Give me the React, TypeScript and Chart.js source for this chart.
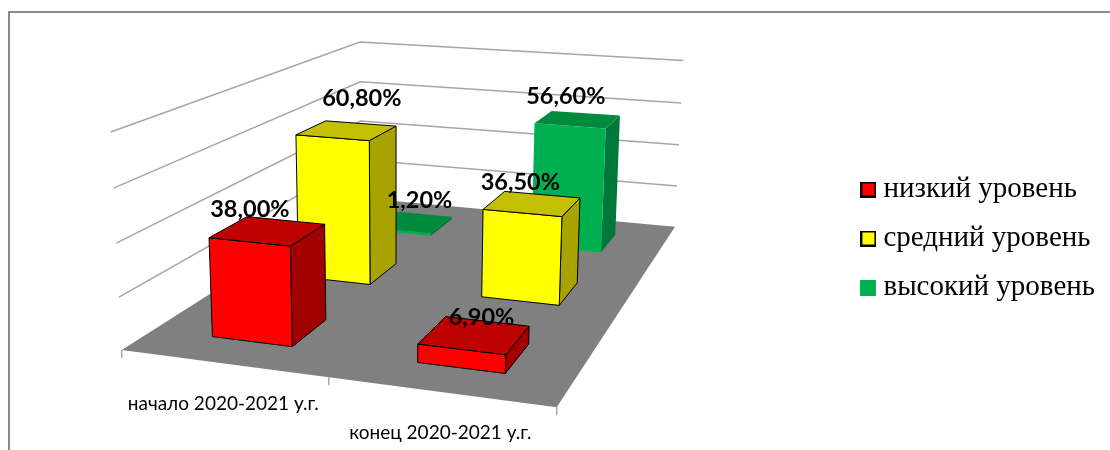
import React, { useEffect, useRef } from "react";
import { Chart, registerables } from "chart.js";

Chart.register(...registerables);

// ---- data ----
const categories = ["начало 2020-2021 у.г.", "конец 2020-2021 у.г."];
const seriesNames = ["низкий уровень", "средний уровень", "высокий уровень"];
const lowValues = [38.0, 6.9];
const midValues = [60.8, 36.5];
const highValues = [1.2, 56.6];
const axisMax = 80;
const axisStep = 20;

// ---- styles ----
const frontColors = ["#FF0000", "#FFFF00", "#00B050"];
const topColors = ["#BF0000", "#C4BF00", "#008A3E"];
const sideColors = ["#A00000", "#A8A300", "#00783A"];
const edgeWidths = [1, 1, 0];
// manual label offsets from the centre of the top face [series][category]
const labelShift = [
  [[-18, -21], [7, -18]],
  [[15, -32], [-12, -21]],
  [[10, -21], [-12, -23]],
];
const LABEL_FONT = "bold 23.5px Lato, 'Open Sans', sans-serif";
const TICK_FONT = "19px Lato, 'Open Sans', sans-serif";

// ---- camera of the 3D view: floor corners and vertical vanishing point ----
const FLOOR = [
  [121.7, 350],
  [556.7, 407.3],
  [675, 226.7],
  [361, 198],
];
const VANISH = [397, 5805];
const RISE = -0.03843; // homogeneous change over the full value axis
const GAP = 0.4; // bar share of its category/series slot

function makeProjector() {
  const [[x0, y0], [x1, y1], [x2, y2], [x3, y3]] = FLOOR;
  const sx = x0 - x1 + x2 - x3;
  const sy = y0 - y1 + y2 - y3;
  const dx1 = x1 - x2, dx2 = x3 - x2, dy1 = y1 - y2, dy2 = y3 - y2;
  const den = dx1 * dy2 - dx2 * dy1;
  const g = (sx * dy2 - dx2 * sy) / den;
  const h = (dx1 * sy - sx * dy1) / den;
  const a = x1 - x0 + g * x1, b = x3 - x0 + h * x3;
  const d = y1 - y0 + g * y1, e = y3 - y0 + h * y3;
  return (u: number, v: number, t: number) => {
    const W = g * u + h * v + 1 + t * RISE;
    return [
      (a * u + b * v + x0 + t * RISE * VANISH[0]) / W,
      (d * u + e * v + y0 + t * RISE * VANISH[1]) / W,
    ];
  };
}
const project = makeProjector();

function poly(ctx: any, pts: number[][], fill: string | null, stroke: string | null, lw = 1) {
  ctx.beginPath();
  pts.forEach((p, i) => (i ? ctx.lineTo(p[0], p[1]) : ctx.moveTo(p[0], p[1])));
  ctx.closePath();
  if (fill) { ctx.fillStyle = fill; ctx.fill(); }
  if (stroke && lw > 0) { ctx.strokeStyle = stroke; ctx.lineWidth = lw; ctx.lineJoin = "round"; ctx.stroke(); }
}

function line(ctx: any, pts: number[][], color: string, lw: number) {
  ctx.beginPath();
  pts.forEach((p, i) => (i ? ctx.lineTo(p[0], p[1]) : ctx.moveTo(p[0], p[1])));
  ctx.strokeStyle = color;
  ctx.lineWidth = lw;
  ctx.stroke();
}

const heightOf = (chart: any, value: number) => {
  const s = chart.scales.y;
  return (s.getPixelForValue(0) - s.getPixelForValue(value)) / (s.getPixelForValue(0) - s.getPixelForValue(axisMax));
};
const uOf = (chart: any, i: number) => {
  const s = chart.scales.x;
  return (s.getPixelForValue(i) - s.left) / s.width;
};
const vOf = (chart: any, ds: number) => (ds + 0.5) / chart.data.datasets.length;

const bar3d = {
  id: "bar3d",
  beforeDatasetsDraw(chart: any) {
    const ctx = chart.ctx;
    ctx.save();
    poly(ctx, [project(0, 0, 0), project(1, 0, 0), project(1, 1, 0), project(0, 1, 0)], "#808080", null);
    chart.scales.y.ticks.forEach((tick: any) => {
      const t = heightOf(chart, tick.value);
      if (t > 0) line(ctx, [project(0, 0, t), project(0, 1, t), project(1, 1, t)], "#A6A6A6", 1.5);
    });
    const n = categories.length;
    for (let i = 0; i <= n; i++) {
      const p = project(i / n, 0, 0);
      line(ctx, [p, [p[0], p[1] + 8]], "#A6A6A6", 1.5);
    }
    ctx.fillStyle = "#000";
    ctx.font = TICK_FONT;
    ctx.textAlign = "center";
    ctx.textBaseline = "middle";
    categories.forEach((label, i) => {
      const p = project(uOf(chart, i), 0, 0);
      ctx.fillText(label, p[0] + 0.5, p[1] + 41);
    });
    ctx.restore();
  },
  beforeDatasetDraw(chart: any, args: any) {
    const ctx = chart.ctx;
    const ds = args.index;
    const values = chart.data.datasets[ds].data;
    const du = (GAP / categories.length) / 2;
    const dv = (GAP / chart.data.datasets.length) / 2;
    const v = vOf(chart, ds);
    ctx.save();
    values.forEach((val: number, i: number) => {
      const u = uOf(chart, i);
      const t = heightOf(chart, val);
      const edge = edgeWidths[ds] ? "#000" : null;
      const fl = project(u - du, v - dv, 0), fr = project(u + du, v - dv, 0), br = project(u + du, v + dv, 0);
      const tfl = project(u - du, v - dv, t), tfr = project(u + du, v - dv, t);
      const tbr = project(u + du, v + dv, t), tbl = project(u - du, v + dv, t);
      poly(ctx, [fr, br, tbr, tfr], sideColors[ds], edge, edgeWidths[ds]);
      poly(ctx, [fl, fr, tfr, tfl], frontColors[ds], edge, edgeWidths[ds]);
      poly(ctx, [tfl, tfr, tbr, tbl], topColors[ds], edge, edgeWidths[ds]);
    });
    ctx.restore();
    return false;
  },
  afterDatasetsDraw(chart: any) {
    const ctx = chart.ctx;
    ctx.save();
    ctx.font = LABEL_FONT;
    ctx.fillStyle = "#000";
    ctx.textAlign = "center";
    ctx.textBaseline = "middle";
    chart.data.datasets.forEach((set: any, ds: number) => {
      set.data.forEach((val: number, i: number) => {
        const c = project(uOf(chart, i), vOf(chart, ds), heightOf(chart, val));
        const [ox, oy] = labelShift[ds][i];
        ctx.fillText(val.toFixed(2).replace(".", ",") + "%", c[0] + ox, c[1] + oy);
      });
    });
    ctx.restore();
  },
};

function legendSwatch(i: number) {
  const size = 16;
  const c = document.createElement("canvas");
  c.width = size;
  c.height = size;
  const g = c.getContext("2d") as CanvasRenderingContext2D;
  g.fillStyle = frontColors[i];
  g.fillRect(0, 0, size, size);
  if (edgeWidths[i]) {
    g.strokeStyle = "#000";
    g.lineWidth = 2;
    g.strokeRect(1, 1, size - 2, size - 2);
  }
  return c;
}

export default function App() {
  const ref = useRef<HTMLCanvasElement>(null);
  useEffect(() => {
    const values = [lowValues, midValues, highValues];
    const chart = new Chart(ref.current as HTMLCanvasElement, {
      type: "bar",
      data: {
        labels: categories,
        datasets: seriesNames.map((name, i) => ({
          label: name,
          data: values[i],
          backgroundColor: frontColors[i],
          borderColor: "#000",
          borderWidth: edgeWidths[i] ? 2 : 0,
        })),
      },
      options: {
        responsive: false,
        animation: false,
        layout: { padding: { top: 27, right: 5 } },
        scales: {
          x: { display: false },
          y: { display: false, min: 0, max: axisMax, ticks: { stepSize: axisStep } },
        },
        plugins: {
          tooltip: { enabled: false },
          title: { display: false },
          legend: {
            position: "right",
            labels: {
              usePointStyle: true,
              pointStyleWidth: 1,
              padding: 20,
              color: "#000",
              font: { family: "'Liberation Serif', serif", size: 29 },
              generateLabels(c: any) {
                return Chart.defaults.plugins.legend.labels
                  .generateLabels(c)
                  .map((item: any, i: number) => ({ ...item, pointStyle: legendSwatch(i) }));
              },
            },
          },
        },
      },
      plugins: [bar3d],
    } as any);
    return () => chart.destroy();
  }, []);
  return (
    <div style={{ position: "absolute", left: 0, top: 0, width: 1110, height: 450, background: "#fff", overflow: "hidden" }}>
      <div style={{ position: "absolute", left: 8, top: 11, right: 0, bottom: 0, borderLeft: "2px solid #8C8C8C", borderTop: "2px solid #8C8C8C" }} />
      <canvas ref={ref} width={1110} height={450} style={{ position: "absolute", left: 0, top: 0 }} />
    </div>
  );
}
